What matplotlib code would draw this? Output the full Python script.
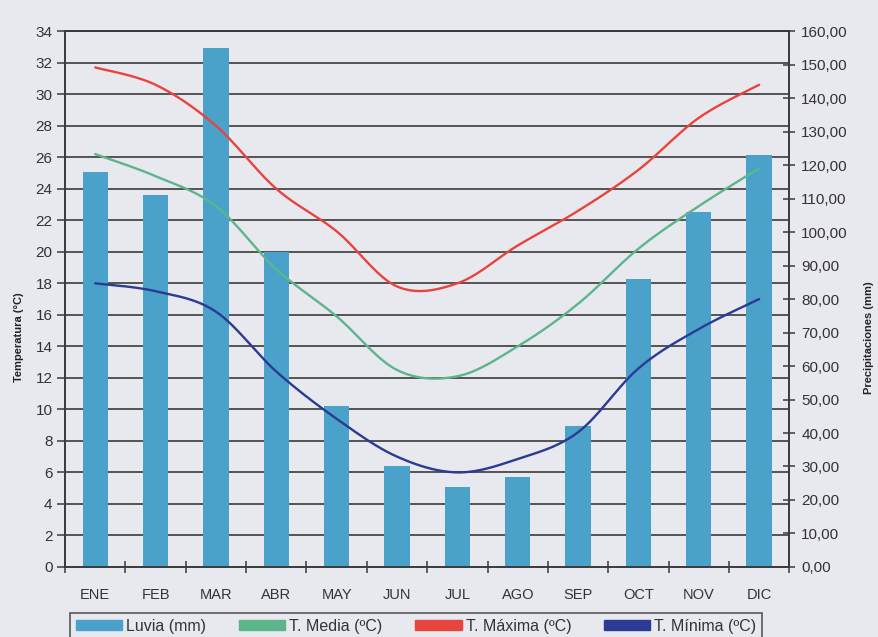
import numpy as np
import matplotlib
matplotlib.use("Agg")
import matplotlib.pyplot as plt
from matplotlib.patches import Patch
from matplotlib.transforms import blended_transform_factory

plt.rcParams['font.family'] = ['Liberation Sans', 'DejaVu Sans']

# Monthly climate data
months = ["ENE", "FEB", "MAR", "ABR", "MAY", "JUN", "JUL", "AGO", "SEP", "OCT", "NOV", "DIC"]
lluvia = [118, 111, 155, 94, 48, 30, 24, 27, 42, 86, 106, 123]          # mm
t_media = [26.2, 24.8, 22.9, 18.9, 15.9, 12.5, 12.1, 14.0, 16.7, 20.2, 22.9, 25.3]
t_maxima = [31.7, 30.6, 28.0, 24.0, 21.3, 17.8, 18.0, 20.4, 22.6, 25.2, 28.5, 30.6]
t_minima = [18.0, 17.5, 16.2, 12.4, 9.4, 7.0, 6.0, 6.85, 8.55, 12.6, 15.1, 17.0]

temp_ticks = list(range(0, 35, 2))
precip_ticks = list(range(0, 161, 10))

BG = '#e8e8ef'
BAR = '#4aa2cb'
C_MEDIA = '#5db58c'
C_MAX = '#e8443e'
C_MIN = '#2b3a92'
GRID = '#3a3a3a'


def smooth(xs, ys, n=30, tension=0.5):
    """Cardinal-spline smoothing through the data points (Excel-style smoothed line)."""
    xs = np.asarray(xs, float)
    ys = np.asarray(ys, float)
    px = np.concatenate([[xs[0]], xs, [xs[-1]]])
    py = np.concatenate([[ys[0]], ys, [ys[-1]]])
    out_x, out_y = [], []
    for i in range(1, len(px) - 2):
        p0, p1, p2, p3 = (np.array([px[j], py[j]]) for j in (i - 1, i, i + 1, i + 2))
        m1 = tension * (p2 - p0)
        m2 = tension * (p3 - p1)
        t = np.linspace(0, 1, n, endpoint=False)
        h00 = 2 * t**3 - 3 * t**2 + 1
        h10 = t**3 - 2 * t**2 + t
        h01 = -2 * t**3 + 3 * t**2
        h11 = t**3 - t**2
        pts = (np.outer(h00, p1) + np.outer(h10, m1) + np.outer(h01, p2) + np.outer(h11, m2))
        out_x.extend(pts[:, 0])
        out_y.extend(pts[:, 1])
    out_x.append(xs[-1])
    out_y.append(ys[-1])
    return np.array(out_x), np.array(out_y)


fig = plt.figure(figsize=(8.79, 6.37), dpi=100, facecolor=BG)
ax = fig.add_axes([0.074, 0.110, 0.824, 0.841])
axp = ax.twinx()

x = np.arange(len(months))

# Precipitation bars on the right axis, drawn underneath the temperature lines
axp.set_zorder(1)
ax.set_zorder(2)
ax.patch.set_visible(False)
axp.patch.set_facecolor(BG)

trans = blended_transform_factory(axp.transAxes, ax.transData)
axp.hlines(temp_ticks[1:], 0, 1, transform=trans, colors=GRID, lw=1.2, zorder=0.5)
axp.bar(x, lluvia, width=0.42, color=BAR, zorder=2)

for vals, col in ((t_media, C_MEDIA), (t_maxima, C_MAX), (t_minima, C_MIN)):
    sx, sy = smooth(x, vals)
    ax.plot(sx, sy, color=col, lw=1.7, solid_capstyle='round')

ax.set_xlim(-0.5, 11.5)
ax.set_ylim(0, 34)
axp.set_ylim(0, 160)

ax.set_yticks(temp_ticks)
ax.set_yticklabels([str(t) for t in temp_ticks], fontsize=11, color='#333333')
ax.tick_params(axis='y', direction='out', length=6, width=1.1, pad=3, color=GRID)

axp.set_yticks(precip_ticks)
axp.set_yticklabels([f"{p:.2f}".replace('.', ',') for p in precip_ticks], fontsize=11, color='#333333')
axp.tick_params(axis='y', direction='inout', length=9, width=1.1, pad=4, color=GRID)

ax.set_xticks(x)
ax.set_xticklabels(months, fontsize=10.5, color='#333333')
ax.set_xticks(np.arange(-0.5, 12, 1), minor=True)
ax.tick_params(axis='x', which='major', length=0, pad=15)
ax.tick_params(axis='x', which='minor', direction='inout', length=8, width=1.1, color=GRID)
axp.tick_params(axis='x', length=0)

for a in (ax, axp):
    for s in a.spines.values():
        s.set_color(GRID)
        s.set_linewidth(1.2)

fig.text(0.022, 0.47, "Temperatura (°C)", rotation=90, ha='center', va='center',
         fontsize=8, fontweight='bold', color='#222222')
fig.text(0.989, 0.47, "Precipitaciones (mm)", rotation=90, ha='center', va='center',
         fontsize=8, fontweight='bold', color='#222222')

handles = [Patch(color=BAR), Patch(color=C_MEDIA), Patch(color=C_MAX), Patch(color=C_MIN)]
labels = ["Luvia (mm)", "T. Media (ºC)", "T. Máxima (ºC)", "T. Mínima (ºC)"]
leg = fig.legend(handles, labels, loc='lower left', ncol=4,
                 bbox_to_anchor=(0.080, -0.004), fontsize=11.5,
                 handlelength=2.9, handleheight=0.55, handletextpad=0.25,
                 borderpad=0.35, borderaxespad=0.0, frameon=True, fancybox=False,
                 columnspacing=2.05)
leg.get_frame().set_edgecolor('#333333')
leg.get_frame().set_linewidth(1.2)
leg.get_frame().set_facecolor(BG)
for t in leg.get_texts():
    t.set_color('#333333')

fig.savefig("out.png", dpi=100, facecolor=BG)
